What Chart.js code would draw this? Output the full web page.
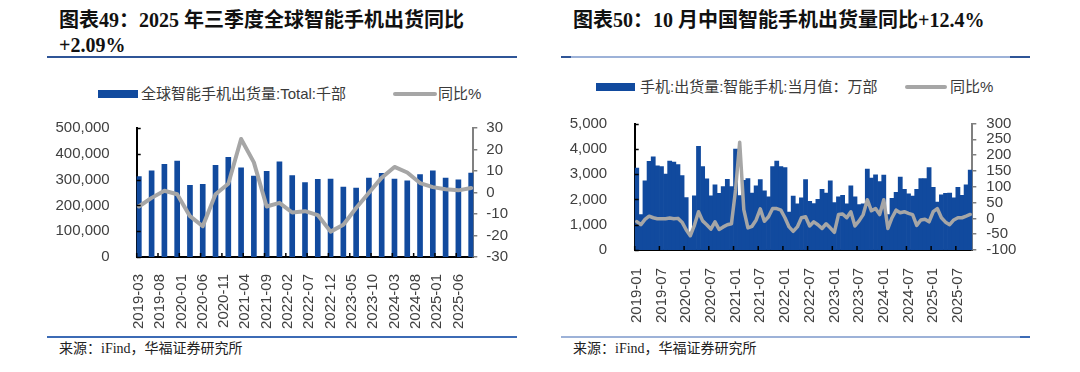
<!DOCTYPE html>
<html>
<head>
<meta charset="utf-8">
<script src="https://cdn.jsdelivr.net/npm/chart.js@4/dist/chart.umd.min.js"></script>
<style>
  html, body { margin: 0; padding: 0; background: #fff; }
  body { width: 1080px; height: 372px; position: relative; overflow: hidden; }
  .abs { position: absolute; white-space: nowrap; }
  .title { font-family: "Liberation Serif", "Noto Sans CJK SC", serif; font-weight: bold; font-size: 20px; line-height: 25px; color: #111; }
  .foot { font-family: "Liberation Serif", "Noto Sans CJK SC", serif; font-size: 14px; line-height: 17px; color: #222; }
  .leg { font-family: "Liberation Sans", "Noto Sans CJK SC", sans-serif; font-size: 15px; line-height: 18px; color: #3a3a3a; }
  canvas { position: absolute; }
</style>
</head>
<body>
<div class="abs title" style="left:59px; top:8px;">图表49：2025 年三季度全球智能手机出货同比<br>+2.09%</div>
<div class="abs title" style="left:573px; top:8px;">图表50：10 月中国智能手机出货量同比+12.4%</div>
<div class="abs" style="left:47px; top:56px; width:470px; height:2px; background:#2F5597;"></div>
<div class="abs" style="left:561px; top:56px; width:469px; height:2px; background:#9DB2D8;"></div>
<div class="abs" style="left:561px; top:56px; width:10px; height:2px; background:#2F5597;"></div>
<div class="abs" style="left:1010px; top:56px; width:20px; height:2px; background:#2F5597;"></div>

<div class="abs" style="left:98px; top:90px; width:40px; height:8px; background:#114A9E;"></div>
<div class="abs leg" style="left:141px; top:85px;">全球智能手机出货量:Total:千部</div>
<div class="abs" style="left:393px; top:92px; width:44px; height:4px; border-radius:2px; background:#A6A6A6;"></div>
<div class="abs leg" style="left:438px; top:85px;">同比%</div>

<div class="abs" style="left:596px; top:83px; width:39px; height:8px; background:#114A9E;"></div>
<div class="abs leg" style="left:640px; top:78px;">手机:出货量:智能手机:当月值：万部</div>
<div class="abs" style="left:905px; top:85px; width:42px; height:4px; border-radius:2px; background:#A6A6A6;"></div>
<div class="abs leg" style="left:950px; top:78px;">同比%</div>

<canvas id="c1" width="540" height="240" style="left:0px; top:100px;"></canvas>
<canvas id="c2" width="540" height="245" style="left:540px; top:95px;"></canvas>

<div class="abs" style="left:47px; top:336px; width:470px; height:2px; background:#3C6BB5;"></div>
<div class="abs" style="left:561px; top:336px; width:469px; height:2px; background:#9DB2D8;"></div>
<div class="abs" style="left:1020px; top:336px; width:10px; height:2px; background:#3C6BB5;"></div>
<div class="abs foot" style="left:59px; top:340px;">来源：iFind，华福证券研究所</div>
<div class="abs foot" style="left:573px; top:340px;">来源：iFind，华福证券研究所</div>

<script>
// ---------- Chart 49: global smartphone shipments (quarterly) ----------
const globalQuarters = ['2019-03','2019-06','2019-09','2019-12','2020-03','2020-06','2020-09','2020-12',
  '2021-03','2021-06','2021-09','2021-12','2022-03','2022-06','2022-09','2022-12',
  '2023-03','2023-06','2023-09','2023-12','2024-03','2024-06','2024-09','2024-12',
  '2025-03','2025-06','2025-09'];
const globalShipments = [312000, 334000, 359000, 372000, 278000, 282000, 355000, 386000,
  346000, 314000, 332000, 369000, 316000, 288000, 301000, 302000,
  271000, 267000, 306000, 324000, 302000, 295000, 319000, 334000,
  306000, 299000, 325000];
const globalYoY = [-6.5, -2.5, 0.8, -0.8, -11, -15.7, -0.8, 4.1,
  24.9, 14, -6.5, -4.8, -9.3, -8.7, -10.5, -18.2,
  -15, -7.2, -0.1, 6.9, 11.9, 9.3, 4.4, 2.5,
  1.5, 1.0, 2.09];
const globalTickLabels = ['2019-03','2019-08','2020-01','2020-06','2020-11','2021-04','2021-09','2022-02',
  '2022-07','2022-12','2023-05','2023-10','2024-03','2024-08','2025-01','2025-06'];

// ---------- Chart 50: China smartphone shipments (monthly, 万部) ----------
const chinaStart = '2019-01';
const chinaShipments = [
  3240, 1400, 2730, 3500, 3680, 3330, 3300, 3000, 3510, 3480, 3380, 2940,
  2070, 640, 2140, 4100, 3300, 2810, 2140, 2580, 2240, 2510, 2790, 2510,
  3990, 2150, 2750, 2820, 2250, 2540, 2780, 2340, 2100, 3300, 3510, 3300,
  3260, 1500, 2130, 1820, 2060, 2780, 1920, 1830, 2000, 2400, 2250, 2730,
  1870, 2100, 2160, 1820, 2540, 2100, 1800, 1820, 3200, 2840, 2970, 2700,
  2960, 1400, 2040, 2280, 2880, 2400, 2220, 2130, 2400, 2820, 2820, 3260,
  2480, 1890, 2180, 2240, 2250, 2060, 2480, 2160, 2580, 3160];
const chinaYoY = [
  -10, -20, -3, 7, 2, -1, -1, -1, 1, -1, 0, -12,
  -36, -55, -22, 21, -8, -20, -34, -11, -35, -27, -20, -17,
  90, 241, 28, -30, -25, -5, 30, -9, 5, 31, 31, 26,
  2, -27, -41, -27, 2, 5, -24, -11, -20, -32, -17, -30,
  -44, 12, 14, 2, 21, -24, -8, 12, 59, 24, 31, 12,
  59, -32, 2, 26, 18, 21, 16, 12, -22, -5, -3, -11,
  21, 31, 2, -12, -20, -5, 2, 2, 7, 12.4];
const chinaTickLabels = ['2019-01','2019-07','2020-01','2020-07','2021-01','2021-07','2022-01',
  '2022-07','2023-01','2023-07','2024-01','2024-07','2025-01','2025-07'];

// ---------- helpers ----------
function monthRange(start, end) {
  let [y, m] = start.split('-').map(Number);
  const [ey, em] = end.split('-').map(Number);
  const out = [];
  while (y < ey || (y === ey && m <= em)) {
    out.push(y + '-' + String(m).padStart(2, '0'));
    m++; if (m > 12) { m = 1; y++; }
  }
  return out;
}
function monthsFrom(start, count) {
  let [y, m] = start.split('-').map(Number);
  const out = [];
  for (let i = 0; i < count; i++) {
    out.push(y + '-' + String(m).padStart(2, '0'));
    m++; if (m > 12) { m = 1; y++; }
  }
  return out;
}
function spread(labels, keys, values) {
  return labels.map(l => { const k = keys.indexOf(l); return k >= 0 ? values[k] : null; });
}

const BLUE = '#114A9E';
const GREY = '#A6A6A6';
const TICK_FONT = { family: "'Liberation Sans', Arial, sans-serif", size: 15 };
const TICK_COLOR = '#404040';

const innerTicks = {
  id: 'innerTicks',
  afterDraw(chart) {
    const { ctx, chartArea: a } = chart;
    const x = chart.scales.x, y = chart.scales.y;
    ctx.save();
    ctx.strokeStyle = '#000';
    ctx.lineWidth = 1.5;
    y.ticks.forEach((t, i) => {
      const py = Math.round(y.getPixelForTick(i)) + 0.5;
      ctx.beginPath(); ctx.moveTo(a.left, py); ctx.lineTo(a.left + 4, py); ctx.stroke();
    });
    const half = (x.getPixelForValue(1) - x.getPixelForValue(0)) / 2;
    x.ticks.forEach((t, i) => {
      if (!t.label) return;
      const px = x.getPixelForTick(i) - half;
      ctx.beginPath(); ctx.moveTo(px, a.bottom); ctx.lineTo(px, a.bottom - 4); ctx.stroke();
    });
    ctx.restore();
  }
};

function fixW(w) { return s => { s.width = w; }; }
function fixH(h) { return s => { s.height = h; }; }

// ---------- Chart 49 ----------
const gLabels = monthRange(globalQuarters[0], globalQuarters[globalQuarters.length - 1]);
new Chart(document.getElementById('c1'), {
  data: {
    labels: gLabels,
    datasets: [
      { type: 'line', data: spread(gLabels, globalQuarters, globalYoY), yAxisID: 'y1',
        borderColor: GREY, borderWidth: 4, pointRadius: 0, spanGaps: true, tension: 0,
        borderJoinStyle: 'round', borderCapStyle: 'round', order: 0 },
      { type: 'bar', data: spread(gLabels, globalQuarters, globalShipments), yAxisID: 'y',
        backgroundColor: BLUE, barThickness: 5, order: 1 }
    ]
  },
  options: {
    responsive: false, animation: false, devicePixelRatio: 1,
    layout: { padding: { top: 15.7, left: 0, right: 0, bottom: 0 } },
    plugins: { legend: { display: false }, tooltip: { enabled: false } },
    scales: {
      x: { type: 'category', offset: true, afterFit: fixH(83),
        grid: { display: false }, border: { color: '#000', width: 2 },
        ticks: { autoSkip: false, minRotation: 90, maxRotation: 90, padding: 9,
          font: TICK_FONT, color: TICK_COLOR,
          callback: function (v, i) { const l = this.getLabelForValue(v); return globalTickLabels.includes(l) ? l : ''; } } },
      y: { position: 'left', min: 0, max: 500000, afterFit: fixW(136.7),
        grid: { display: false }, border: { color: '#000', width: 2 },
        ticks: { stepSize: 100000, autoSkip: false, padding: 19, font: TICK_FONT, color: TICK_COLOR,
          callback: v => v.toLocaleString('en-US') } },
      y1: { position: 'right', min: -30, max: 30, afterFit: fixW(66.7),
        grid: { display: true, drawOnChartArea: false, tickLength: 4, color: '#808080', lineWidth: 1.5 },
        border: { color: '#808080', width: 2 },
        ticks: { stepSize: 10, autoSkip: false, padding: 9, font: TICK_FONT, color: TICK_COLOR } }
    }
  },
  plugins: [innerTicks]
});

// ---------- Chart 50 ----------
const cLabels = monthsFrom(chinaStart, chinaShipments.length);
new Chart(document.getElementById('c2'), {
  data: {
    labels: cLabels,
    datasets: [
      { type: 'line', data: chinaYoY, yAxisID: 'y1',
        borderColor: GREY, borderWidth: 3.5, pointRadius: 0, tension: 0,
        borderJoinStyle: 'round', borderCapStyle: 'round', order: 0 },
      { type: 'bar', data: chinaShipments, yAxisID: 'y',
        backgroundColor: BLUE, barPercentage: 1, categoryPercentage: 1, borderWidth: 0, order: 1 }
    ]
  },
  options: {
    responsive: false, animation: false, devicePixelRatio: 1,
    layout: { padding: { top: 16, left: 0, right: 0, bottom: 0 } },
    plugins: { legend: { display: false }, tooltip: { enabled: false } },
    scales: {
      x: { type: 'category', offset: true, afterFit: fixH(90),
        grid: { display: false }, border: { color: '#000', width: 2 },
        ticks: { autoSkip: false, minRotation: 90, maxRotation: 90, padding: 10,
          font: TICK_FONT, color: TICK_COLOR,
          callback: function (v, i) { const l = this.getLabelForValue(v); return chinaTickLabels.includes(l) ? l : ''; } } },
      y: { position: 'left', min: 0, max: 5000, afterFit: fixW(94.7),
        grid: { display: false }, border: { color: '#000', width: 2 },
        ticks: { stepSize: 1000, autoSkip: false, padding: 19.5, font: TICK_FONT, color: TICK_COLOR,
          callback: v => v.toLocaleString('en-US') } },
      y1: { position: 'right', min: -100, max: 300, afterFit: fixW(107.7),
        grid: { display: true, drawOnChartArea: false, tickLength: 4, color: '#808080', lineWidth: 1.5 },
        border: { color: '#808080', width: 2 },
        ticks: { stepSize: 50, autoSkip: false, padding: 10, font: TICK_FONT, color: TICK_COLOR } }
    }
  },
  plugins: [innerTicks]
});
</script>
</body>
</html>
